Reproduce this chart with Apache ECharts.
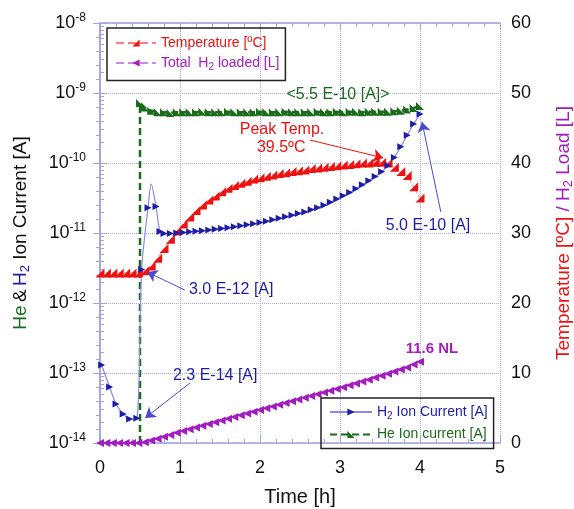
<!DOCTYPE html>
<html>
<head>
<meta charset="utf-8">
<script src="https://cdn.jsdelivr.net/npm/echarts@6/dist/echarts.min.js"></script>
<style>
html,body{margin:0;padding:0;background:#fff}
#chart{width:574px;height:509px}
</style>
</head>
<body>
<div id="chart"></div>
<script>
// time axis for temperature / H2 loaded [h]
const times = [0, 0.08, 0.16, 0.24, 0.32, 0.40, 0.48, 0.56, 0.64, 0.72, 0.80, 0.88, 0.96,
  1.04, 1.12, 1.20, 1.28, 1.36, 1.44, 1.52, 1.60, 1.68, 1.76, 1.84, 1.92,
  2.00, 2.08, 2.16, 2.24, 2.32, 2.40, 2.48, 2.56, 2.64, 2.72, 2.80, 2.88, 2.96,
  3.04, 3.12, 3.20, 3.28, 3.36, 3.44, 3.52, 3.60, 3.68, 3.76, 3.84, 3.92, 4.00];
// temperature [ºC]
const tempVals = [24.3, 24.3, 24.3, 24.3, 24.3, 24.3, 24.3, 24.6, 25.3, 26.4, 27.8, 29.1, 30.3,
  31.3, 32.3, 33.2, 34.0, 34.7, 35.3, 35.9, 36.4, 36.8, 37.1, 37.4, 37.7,
  37.9, 38.1, 38.3, 38.5, 38.6, 38.8, 38.9, 39.0, 39.2, 39.3, 39.4, 39.5, 39.6,
  39.7, 39.8, 39.9, 40.0, 40.0, 40.1, 40.1, 40.0, 39.4, 38.8, 38.2, 36.6, 35.0];
// total H2 loaded [L]
const loadVals = [0, 0, 0, 0, 0, 0, 0, 0.1, 0.35, 0.6, 0.9, 1.15, 1.45,
  1.7, 1.95, 2.2, 2.45, 2.7, 2.95, 3.2, 3.45, 3.7, 3.95, 4.2, 4.45,
  4.7, 4.95, 5.2, 5.45, 5.7, 5.95, 6.2, 6.45, 6.7, 6.95, 7.2, 7.45, 7.7,
  7.95, 8.25, 8.5, 8.8, 9.05, 9.35, 9.6, 9.9, 10.2, 10.5, 10.8, 11.2, 11.6];

// He ion current [A]
const heTimes = [0.5, 0.5, 0.56, 0.64, 0.72, 0.80, 0.88, 0.96,
  1.04, 1.12, 1.20, 1.28, 1.36, 1.44, 1.52, 1.60, 1.68, 1.76, 1.84, 1.92,
  2.00, 2.08, 2.16, 2.24, 2.32, 2.40, 2.48, 2.56, 2.64, 2.72, 2.80, 2.88, 2.96,
  3.04, 3.12, 3.20, 3.28, 3.36, 3.44, 3.52, 3.60, 3.68, 3.76, 3.84, 3.92, 4.00];
const heVals = [1e-14, 7.2e-10, 6.2e-10, 5.6e-10, 5.3e-10, 5.3e-10, 5.2e-10, 5.3e-10,
  5.3e-10, 5.3e-10, 5.3e-10, 5.4e-10, 5.3e-10, 5.3e-10, 5.3e-10, 5.4e-10, 5.3e-10, 5.3e-10, 5.3e-10, 5.3e-10,
  5.4e-10, 5.3e-10, 5.3e-10, 5.3e-10, 5.4e-10, 5.3e-10, 5.3e-10, 5.3e-10, 5.3e-10, 5.4e-10, 5.3e-10, 5.3e-10, 5.4e-10,
  5.3e-10, 5.4e-10, 5.4e-10, 5.3e-10, 5.4e-10, 5.4e-10, 5.4e-10, 5.4e-10, 5.5e-10, 5.6e-10, 5.8e-10, 6.1e-10, 6.5e-10];

// H2 ion current [A]
const h2Times = [0.02, 0.12, 0.20, 0.29, 0.37, 0.46, 0.52, 0.60, 0.64, 0.70, 0.75,
  0.80, 0.88, 0.96, 1.04, 1.12, 1.20, 1.28, 1.36, 1.44, 1.52, 1.60, 1.68, 1.76, 1.84, 1.92,
  2.00, 2.08, 2.16, 2.24, 2.32, 2.40, 2.48, 2.56, 2.64, 2.72, 2.80, 2.88, 2.96,
  3.04, 3.12, 3.20, 3.28, 3.36, 3.44, 3.52, 3.60, 3.68, 3.76, 3.84, 3.92, 4.00];
const h2Vals = [1.3e-13, 6.3e-14, 3.6e-14, 2.6e-14, 2.2e-14, 2.25e-14, 3.0e-12, 2.3e-11, 5.0e-11, 2.4e-11, 1.05e-11,
  9.8e-12, 9.8e-12, 1.0e-11, 1.02e-11, 1.04e-11, 1.06e-11, 1.08e-11, 1.1e-11, 1.13e-11, 1.16e-11, 1.19e-11, 1.23e-11, 1.27e-11, 1.31e-11, 1.36e-11,
  1.41e-11, 1.47e-11, 1.54e-11, 1.62e-11, 1.7e-11, 1.8e-11, 1.9e-11, 2.0e-11, 2.15e-11, 2.3e-11, 2.5e-11, 2.75e-11, 3.05e-11,
  3.4e-11, 3.8e-11, 4.3e-11, 4.9e-11, 5.6e-11, 6.4e-11, 7.5e-11, 9.2e-11, 1.2e-10, 1.7e-10, 2.5e-10, 3.6e-10, 5.0e-10];
const h2PeakIdx = 8; // spike top, drawn without marker

const FONT = '"Liberation Sans", Arial, sans-serif';
const AX = '#a3a3de';
const GRID = '#a8a8e6';
const RED = '#ee1111';
const PURPLE = '#a21cc0';
const BLUE = '#1c1ca6';
const GREEN = '#1a6b1a';

const TRI_DR = 'path://M10,0 L10,10 L0,10 Z';
const TRI_DL = 'path://M0,0 L0,10 L10,10 Z';
const TRI_R = 'path://M0,0 L10,5 L0,10 Z';
const TRI_L = 'path://M10,0 L0,5 L10,10 Z';

let chart = echarts.init(document.getElementById('chart'));

const legendRich = {
  r: {color: RED, fontSize: 14, fontFamily: FONT},
  p: {color: PURPLE, fontSize: 14, fontFamily: FONT},
  ps: {color: PURPLE, fontSize: 10, fontFamily: FONT, padding: [9, 0, 0, 0]},
  b: {color: BLUE, fontSize: 14, fontFamily: FONT},
  bs: {color: BLUE, fontSize: 10, fontFamily: FONT, padding: [9, 0, 0, 0]},
  g: {color: GREEN, fontSize: 14, fontFamily: FONT}
};
function legendLabel(name) {
  if (name == 'Temperature [ºC]') return '{r|Temperature [ºC]}';
  if (name == 'Total H2 loaded [L]') return '{p|Total  H}{ps|2}{p| loaded [L]}';
  if (name == 'H2 Ion Current [A]') return '{b|H}{bs|2}{b| Ion Current [A]}';
  return '{g|' + name + '}';
}

const tickCommon = {
  axisLine: {lineStyle: {color: AX, width: 1.5}},
  axisTick: {inside: true, length: 7, lineStyle: {color: AX, width: 1}},
  minorTick: {show: true, splitNumber: 5, length: 4, lineStyle: {color: AX, width: 1}}
};

let option = {
  animation: false,
  grid: {left: 100, right: 74, top: 23, bottom: 66, outerBoundsMode: 'none'},
  legend: [
    {
      data: ['Temperature [ºC]', 'Total H2 loaded [L]'],
      orient: 'vertical', left: 107, top: 28,
      itemWidth: 40, itemHeight: 9, itemGap: 6,
      padding: [8, 6, 8, 8],
      borderColor: '#222', borderWidth: 1.5,
      formatter: legendLabel,
      textStyle: {rich: legendRich}
    },
    {
      data: ['H2 Ion Current [A]', 'He Ion current [A]'],
      orient: 'vertical', left: 321, top: 398,
      itemWidth: 42, itemHeight: 9, itemGap: 6,
      padding: [7, 6, 7, 8],
      borderColor: '#222', borderWidth: 1.5,
      formatter: legendLabel,
      textStyle: {rich: legendRich}
    }
  ],
  xAxis: [
    Object.assign({
      type: 'value', min: 0, max: 5, interval: 1, position: 'bottom',
      axisLabel: {color: '#111', fontSize: 18, margin: 16, fontFamily: FONT},
      splitLine: {show: true, lineStyle: {color: GRID, type: 'dotted', width: 1}},
      name: 'Time [h]', nameLocation: 'middle', nameGap: 44,
      nameTextStyle: {color: '#111', fontSize: 20, fontFamily: FONT}
    }, tickCommon),
    Object.assign({
      type: 'value', min: 0, max: 5, interval: 1, position: 'top',
      axisLabel: {show: false}, splitLine: {show: false}
    }, tickCommon)
  ],
  yAxis: [
    {
      type: 'log', logBase: 10, min: 1e-14, max: 1e-8, splitNumber: 6, position: 'left',
      axisLine: {lineStyle: {color: AX, width: 1.5}},
      axisTick: {inside: true, length: 7, lineStyle: {color: AX}},
      minorTick: {show: true, splitNumber: 9, length: 4, lineStyle: {color: AX}},
      splitLine: {show: true, lineStyle: {color: GRID, type: 'dotted', width: 1}},
      axisLabel: {
        margin: 14,
        formatter: function (v) {
          return '{n|10}{s|' + Math.round(Math.log10(v)) + '}';
        },
        rich: {
          n: {color: '#111', fontSize: 18, fontFamily: FONT},
          s: {color: '#111', fontSize: 12, fontFamily: FONT, padding: [0, 0, 11, 0]}
        }
      },
      name: '{g|He} {k|&} {b|H}{bs|2}{k| Ion Current [A]}',
      nameLocation: 'middle', nameRotate: 90, nameGap: 68,
      nameTextStyle: {
        rich: {
          g: {color: GREEN, fontSize: 19, fontFamily: FONT},
          k: {color: '#111', fontSize: 19, fontFamily: FONT},
          b: {color: BLUE, fontSize: 19, fontFamily: FONT},
          bs: {color: BLUE, fontSize: 13, fontFamily: FONT, padding: [10, 0, 0, 0]}
        }
      }
    },
    Object.assign({
      type: 'value', min: 0, max: 60, interval: 10, position: 'right',
      splitLine: {show: false},
      axisLabel: {color: '#111', fontSize: 18, margin: 11, fontFamily: FONT},
      name: '{r|Temperature [ºC]}{p| / H}{ps|2}{p| Load [L]}',
      nameLocation: 'middle', nameRotate: 90, nameGap: 52,
      nameTextStyle: {
        rich: {
          r: {color: RED, fontSize: 19, fontFamily: FONT},
          p: {color: PURPLE, fontSize: 19, fontFamily: FONT},
          ps: {color: PURPLE, fontSize: 13, fontFamily: FONT, padding: [10, 0, 0, 0]}
        }
      }
    }, tickCommon)
  ],
  series: [
    {
      name: 'Temperature [ºC]', type: 'line', xAxisIndex: 0, yAxisIndex: 1,
      data: times.map((t, i) => [t, tempVals[i]]),
      symbol: TRI_DR, symbolSize: 9,
      itemStyle: {color: RED},
      lineStyle: {color: '#ff7a7a', width: 1, type: 'dashed'}
    },
    {
      name: 'Total H2 loaded [L]', type: 'line', xAxisIndex: 0, yAxisIndex: 1,
      data: times.map((t, i) => [t, loadVals[i]]),
      symbol: TRI_L, symbolSize: 8,
      itemStyle: {color: PURPLE},
      lineStyle: {color: '#c98ae0', width: 1, type: 'dashed'}
    },
    {
      name: 'He Ion current [A]', type: 'line', xAxisIndex: 0, yAxisIndex: 0,
      data: heTimes.map((t, i) => i == 0 ? {value: [t, heVals[i]], symbol: 'none'} : [t, heVals[i]]),
      symbol: TRI_DL, symbolSize: 8,
      itemStyle: {color: GREEN},
      lineStyle: {color: GREEN, width: 2.5, type: [7, 4]}
    },
    {
      name: 'H2 Ion Current [A]', type: 'line', xAxisIndex: 0, yAxisIndex: 0,
      data: h2Times.map((t, i) => i == h2PeakIdx ? {value: [t, h2Vals[i]], symbol: 'none'} : [t, h2Vals[i]]),
      symbol: TRI_R, symbolSize: 7, smooth: 0.3,
      itemStyle: {color: BLUE},
      lineStyle: {color: '#8a8ae2', width: 1.2},
      markLine: {
        silent: true, symbol: ['none', 'arrow'], symbolSize: 10,
        label: {show: false},
        lineStyle: {type: 'solid', width: 1},
        data: [
          [{coord: [2.625, 2.13e-10], lineStyle: {color: RED}}, {coord: [3.54, 1.18e-10]}],
          [{coord: [4.26, 2.0e-11], lineStyle: {color: '#4a4ad0'}}, {coord: [4.025, 3.85e-10]}],
          [{coord: [1.06, 1.53e-12], lineStyle: {color: '#4a4ad0'}}, {coord: [0.59, 2.77e-12]}],
          [{coord: [1.125, 7.2e-14], lineStyle: {color: '#4a4ad0'}}, {coord: [0.565, 2.28e-14]}]
        ]
      }
    }
  ]
};
chart.setOption(option);

// text annotations, placed in data coordinates of the left axis
const notes = [
  {text: '<5.5 E-10 [A]>', t: 2.975, v: 9.4e-10, color: GREEN, size: 16, bold: false},
  {text: 'Peak Temp.', t: 2.275, v: 2.96e-10, color: RED, size: 16, bold: false},
  {text: '39.5ºC', t: 2.265, v: 1.64e-10, color: RED, size: 16, bold: false},
  {text: '5.0 E-10 [A]', t: 4.1, v: 1.26e-11, color: BLUE, size: 16, bold: false},
  {text: '3.0 E-12 [A]', t: 1.64, v: 1.58e-12, color: BLUE, size: 16, bold: false},
  {text: '2.3 E-14 [A]', t: 1.44, v: 9.3e-14, color: BLUE, size: 16, bold: false},
  {text: '11.6 NL', t: 4.15, v: 2.2e-13, color: PURPLE, size: 15, bold: true}
];
chart.setOption({
  graphic: notes.map(function (n) {
    let p = chart.convertToPixel({xAxisIndex: 0, yAxisIndex: 0}, [n.t, n.v]);
    return {
      type: 'text', x: p[0], y: p[1], z: 100,
      style: {
        text: n.text, fill: n.color,
        font: (n.bold ? 'bold ' : '') + n.size + 'px ' + FONT,
        align: 'center', verticalAlign: 'middle'
      }
    };
  })
});
</script>
</body>
</html>
